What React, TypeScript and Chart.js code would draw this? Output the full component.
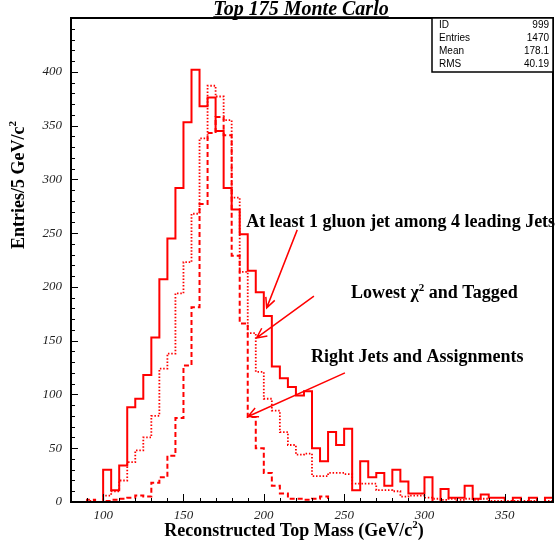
import React, { useEffect, useRef } from "react";
import { Chart, registerables } from "chart.js";

Chart.register(...registerables);

// ---- data -------------------------------------------------------------
const binEdges = [
  80, 85, 90, 95, 100, 105, 110, 115, 120, 125, 130, 135, 140, 145, 150, 155,
  160, 165, 170, 175, 180, 185, 190, 195, 200, 205, 210, 215, 220, 225, 230,
  235, 240, 245, 250, 255, 260, 265, 270, 275, 280, 285, 290, 295, 300, 305,
  310, 315, 320, 325, 330, 335, 340, 345, 350, 355, 360, 365, 370, 375, 380,
];

// "At least 1 gluon jet among 4 leading Jets" (solid)
const gluonJets = [
  0, 0, 0, 0,
  30, 11, 34, 88, 96, 118, 153, 207, 245, 292,
  353, 402, 368, 376, 345, 292, 272, 249, 215, 195,
  173, 126, 115, 107, 99, 103, 50, 38, 65, 53,
  68, 11, 38, 23, 27, 15, 30, 19, 8, 8,
  23, 0, 12, 4, 4, 15, 3, 7, 4, 4,
  0, 4, 0, 4, 0, 4,
];

// "Lowest chi2 and Tagged" (dotted)
const chi2Tagged = [
  0, 0, 1, 0,
  6, 10, 20, 37, 48, 60, 80, 124, 138, 194,
  223, 268, 338, 387, 377, 355, 283, 214, 157, 121,
  96, 85, 65, 53, 44, 45, 24, 24, 27, 27,
  26, 17, 17, 17, 11, 11, 10, 5, 6, 6,
  4, 3, 2, 3, 2, 3, 2, 3, 1, 1,
  1, 1, 1, 1, 0, 1,
];

// "Right Jets and Assignments" (dashed)
const rightJets = [
  0, 0, 2, 0,
  1, 2, 3, 4, 6, 5, 18, 23, 43, 78,
  127, 181, 277, 343, 358, 341, 229, 166, 79, 50,
  27, 15, 8, 3, 3, 2, 3, 5, 0, 0,
  0, 0, 0, 0, 0, 0, 0, 0, 0, 0,
  0, 0, 0, 0, 0, 0, 0, 0, 0, 0,
  0, 0, 0, 0, 0, 0,
];

const xTickValues = [100, 150, 200, 250, 300, 350];
const yTickValues = [0, 50, 100, 150, 200, 250, 300, 350, 400];

const statsLabels = ["ID", "Entries", "Mean", "RMS"];
const statsValues = ["999", "1470", "178.1", "40.19"];

const titleText = "Top 175 Monte Carlo";

// ---- helpers ----------------------------------------------------------
function histPoints(vals: number[]) {
  return binEdges.map((x, i) => ({ x, y: vals[Math.min(i, vals.length - 1)] }));
}

type Part = [string, boolean];

function richWidth(ctx: CanvasRenderingContext2D, parts: Part[], size: number) {
  let w = 0;
  for (const [t, sup] of parts) {
    ctx.font = `bold ${sup ? Math.round(size * 0.62) : size}px "Liberation Serif"`;
    w += ctx.measureText(t).width;
  }
  return w;
}

function drawRich(
  ctx: CanvasRenderingContext2D,
  parts: Part[],
  x: number,
  y: number,
  size: number,
  align: "left" | "center"
) {
  const w = richWidth(ctx, parts, size);
  let cx = align === "center" ? x - w / 2 : x;
  ctx.textAlign = "left";
  ctx.textBaseline = "alphabetic";
  for (const [t, sup] of parts) {
    ctx.font = `bold ${sup ? Math.round(size * 0.62) : size}px "Liberation Serif"`;
    ctx.fillText(t, cx, sup ? y - size * 0.42 : y);
    cx += ctx.measureText(t).width;
  }
}

function arrow(
  ctx: CanvasRenderingContext2D,
  x1: number,
  y1: number,
  x2: number,
  y2: number
) {
  ctx.beginPath();
  ctx.moveTo(x1, y1);
  ctx.lineTo(x2, y2);
  const ang = Math.atan2(y2 - y1, x2 - x1);
  const len = 11;
  const spread = 0.45;
  ctx.moveTo(x2 - len * Math.cos(ang - spread), y2 - len * Math.sin(ang - spread));
  ctx.lineTo(x2, y2);
  ctx.lineTo(x2 - len * Math.cos(ang + spread), y2 - len * Math.sin(ang + spread));
  ctx.stroke();
}

// annotation anchors in data coordinates (GeV, entries)
const annotations: { parts: Part[]; x: number; y: number }[] = [
  { parts: [["At least 1 gluon jet among 4 leading Jets", false]], x: 189, y: 256 },
  { parts: [["Lowest \u03c7", false], ["2", true], [" and Tagged", false]], x: 254.3, y: 189.5 },
  { parts: [["Right Jets and Assignments", false]], x: 229.4, y: 130 },
];
const arrowsData = [
  { from: [220.8, 253], to: [201.8, 180.5] },
  { from: [231.2, 191.5], to: [195.5, 152.5] },
  { from: [250.5, 120], to: [190.2, 79.5] },
];

const decorPlugin = {
  id: "decor",
  afterDraw(chart: any) {
    const ctx: CanvasRenderingContext2D = chart.ctx;
    const a = chart.chartArea;
    const xs = chart.scales.x;
    const ys = chart.scales.y;
    ctx.save();

    // tick marks (inside)
    ctx.strokeStyle = "#000";
    ctx.lineWidth = 1;
    ctx.beginPath();
    for (let v = 80; v <= 380; v += 10) {
      const px = Math.round(xs.getPixelForValue(v)) + 0.5;
      const len = v % 50 === 0 ? 8 : 4;
      ctx.moveTo(px, a.bottom);
      ctx.lineTo(px, a.bottom - len);
    }
    for (let v = 0; v <= 450; v += 10) {
      const py = Math.round(ys.getPixelForValue(v)) + 0.5;
      const len = v % 50 === 0 ? 7 : 4;
      ctx.moveTo(a.left, py);
      ctx.lineTo(a.left + len, py);
    }
    ctx.stroke();

    // frame
    ctx.lineWidth = 2;
    ctx.strokeRect(a.left, a.top, a.right - a.left, a.bottom - a.top);

    // title
    ctx.fillStyle = "#000";
    ctx.font = 'italic bold 20px "Liberation Serif"';
    ctx.textAlign = "center";
    ctx.textBaseline = "alphabetic";
    const tx = 301;
    ctx.fillText(titleText, tx, 15);
    const tw = ctx.measureText(titleText).width;
    ctx.lineWidth = 1.5;
    ctx.beginPath();
    ctx.moveTo(tx - tw / 2, 17);
    ctx.lineTo(tx + tw / 2, 17);
    ctx.stroke();

    // axis titles
    drawRich(ctx, [["Reconstructed Top Mass (GeV/c", false], ["2", true], [")", false]], 294, 536, 18, "center");
    ctx.save();
    ctx.translate(24, 185);
    ctx.rotate(-Math.PI / 2);
    drawRich(ctx, [["Entries/5 GeV/c", false], ["2", true]], 0, 0, 18, "center");
    ctx.restore();

    // stats box
    const bx = a.right - 121;
    const by = a.top;
    const bw = 121;
    const bh = 54;
    ctx.fillStyle = "#fff";
    ctx.fillRect(bx, by, bw, bh);
    ctx.strokeStyle = "#000";
    ctx.lineWidth = 1.5;
    ctx.strokeRect(bx, by, bw, bh);
    ctx.fillStyle = "#000";
    ctx.font = '10px "Liberation Sans"';
    ctx.textBaseline = "middle";
    statsLabels.forEach((lab, i) => {
      const ry = by + 7 + i * 13;
      ctx.textAlign = "left";
      ctx.fillText(lab, bx + 7, ry);
      ctx.textAlign = "right";
      ctx.fillText(statsValues[i], bx + bw - 4, ry);
    });

    // annotations
    ctx.fillStyle = "#000";
    for (const an of annotations) {
      drawRich(ctx, an.parts, xs.getPixelForValue(an.x), ys.getPixelForValue(an.y), 18, "left");
    }
    ctx.strokeStyle = "#ff0000";
    ctx.lineWidth = 1.5;
    for (const ar of arrowsData) {
      arrow(
        ctx,
        xs.getPixelForValue(ar.from[0]),
        ys.getPixelForValue(ar.from[1]),
        xs.getPixelForValue(ar.to[0]),
        ys.getPixelForValue(ar.to[1])
      );
    }
    ctx.restore();
  },
};

export default function App() {
  const ref = useRef<HTMLCanvasElement | null>(null);
  useEffect(() => {
    if (!ref.current) return;
    const tickFont = { family: '"Liberation Serif"', size: 13, style: "italic" as const };
    const chart = new Chart(ref.current, {
      type: "line",
      data: {
        datasets: [
          {
            label: "At least 1 gluon jet among 4 leading Jets",
            data: histPoints(gluonJets),
            borderColor: "#ff0000",
            borderWidth: 2,
            stepped: true,
            pointRadius: 0,
            fill: false,
          },
          {
            label: "Lowest chi2 and Tagged",
            data: histPoints(chi2Tagged),
            borderColor: "#ff0000",
            borderWidth: 1.8,
            borderDash: [1.5, 1.8],
            stepped: true,
            pointRadius: 0,
            fill: false,
          },
          {
            label: "Right Jets and Assignments",
            data: histPoints(rightJets),
            borderColor: "#ff0000",
            borderWidth: 2,
            borderDash: [5, 3],
            stepped: true,
            pointRadius: 0,
            fill: false,
          },
        ],
      },
      options: {
        responsive: false,
        animation: false,
        layout: { padding: { top: 18, right: 4, left: 0, bottom: 0 } },
        plugins: {
          legend: { display: false },
          tooltip: { enabled: false },
          title: { display: false },
        },
        scales: {
          x: {
            type: "linear",
            min: 80,
            max: 380,
            grid: { display: false, drawTicks: false },
            border: { display: false },
            afterBuildTicks: (s: any) => {
              s.ticks = xTickValues.map((v) => ({ value: v }));
            },
            afterFit: (s: any) => {
              s.height = 39;
            },
            ticks: {
              font: tickFont,
              color: "#222",
              padding: 6,
              maxRotation: 0,
              autoSkip: false,
            },
          },
          y: {
            type: "linear",
            min: 0,
            max: 450,
            grid: { display: false, drawTicks: false },
            border: { display: false },
            afterBuildTicks: (s: any) => {
              s.ticks = yTickValues.map((v) => ({ value: v }));
            },
            afterFit: (s: any) => {
              s.width = 71;
            },
            ticks: {
              font: tickFont,
              color: "#222",
              padding: 9,
              autoSkip: false,
            },
          },
        },
      },
      plugins: [decorPlugin],
    });
    return () => chart.destroy();
  }, []);
  return (
    <div style={{ position: "fixed", left: 0, top: 0, width: 557, height: 541, background: "#fff" }}>
      <canvas ref={ref} width={557} height={541} style={{ display: "block", width: 557, height: 541 }} />
    </div>
  );
}
